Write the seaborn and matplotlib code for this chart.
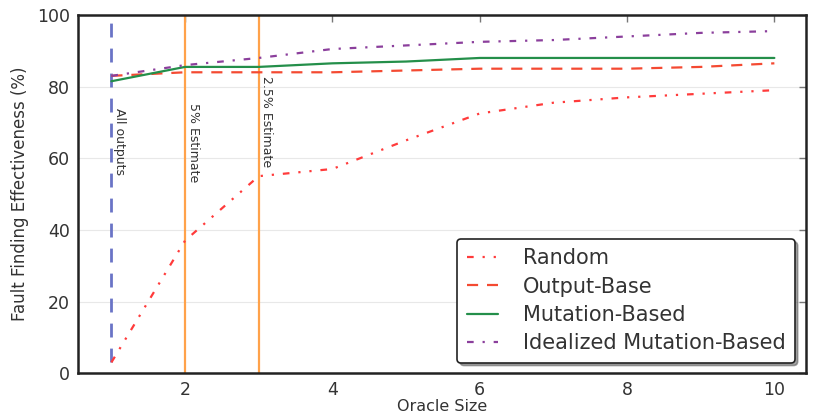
import numpy as np
import pandas as pd
import matplotlib
matplotlib.use("Agg")
import matplotlib.pyplot as plt
import seaborn as sns

# Oracle sizes and fault finding effectiveness (%) for each oracle strategy
oracle_size = [1, 2, 3, 4, 5, 6, 7, 8, 9, 10]
random_vals = [3, 37, 55, 57, 65, 72.5, 75.5, 77, 78, 79]
output_base = [83, 84, 84, 84, 84.5, 85, 85, 85, 85.5, 86.5]
mutation_based = [81.5, 85.5, 85.5, 86.5, 87, 88, 88, 88, 88, 88]
idealized = [83, 86, 88, 90.5, 91.5, 92.5, 93, 94, 95, 95.5]

series_names = ["Random", "Output-Base", "Mutation-Based", "Idealized Mutation-Based"]
series_vals = [random_vals, output_base, mutation_based, idealized]

# Reference oracle sizes
marker_x = [1, 2, 3]
marker_labels = ["All outputs", "5% Estimate", "2.5% Estimate"]
marker_label_y = [74, 75.5, 83]

df = pd.DataFrame({
    "Oracle Size": np.tile(oracle_size, len(series_names)),
    "Effectiveness": np.concatenate(series_vals),
    "Series": np.repeat(series_names, len(oracle_size)),
})

sns.set_style("white")
plt.rcParams["font.family"] = ["DejaVu Sans"]

fig, ax = plt.subplots(figsize=(8.15, 4.16), dpi=100)
fig.subplots_adjust(left=0.096, right=0.989, top=0.964, bottom=0.103)

palette = {
    "Random": "#ff3b3b",
    "Output-Base": "#f44a32",
    "Mutation-Based": "#248f4a",
    "Idealized Mutation-Based": "#8b3f9c",
}
dashes = {
    "Random": (3, 4, 1, 4, 1, 4),
    "Output-Base": (5, 4),
    "Mutation-Based": "",
    "Idealized Mutation-Based": (3, 4, 1, 4),
}
sns.lineplot(data=df, x="Oracle Size", y="Effectiveness", hue="Series",
             style="Series", palette=palette, dashes=dashes, linewidth=1.6,
             ax=ax, legend=False)

# Reference lines
ax.plot([1, 1], [3, 98], color="#6a74c6", linestyle=(0, (5, 4)), linewidth=2, zorder=1)
ax.axvline(2, color="#ffa24a", linewidth=1.6, zorder=1)
ax.axvline(3, color="#ffa24a", linewidth=1.6, zorder=1)
for xv, lab, yv in zip(marker_x, marker_labels, marker_label_y):
    ax.text(xv + 0.02, yv, lab, rotation=-90, ha="left", va="top",
            fontsize=9, color="#333333")

ax.set_xlim(0.55, 10.43)
ax.set_ylim(0, 100)
ax.set_xticks([2, 4, 6, 8, 10])
ax.set_yticks([0, 20, 40, 60, 80, 100])
ax.yaxis.grid(True, color="#e8e8e8", linewidth=0.8)
ax.set_axisbelow(True)
ax.tick_params(direction="in", top=True, right=True, length=5, width=1,
               color="#777777", labelsize=12.5, labelcolor="#333333", pad=6)
for s in ax.spines.values():
    s.set_color("#222222")
    s.set_linewidth(1.8)
ax.set_xlabel("Oracle Size", fontsize=11.5, color="#333333", labelpad=0)
ax.set_ylabel("Fault Finding Effectiveness (%)", fontsize=12, color="#333333", labelpad=6)

# Legend built from the plotted lines
handles = ax.get_lines()[:4]
leg = ax.legend(handles, series_names, loc="lower right", fontsize=15,
                frameon=True, fancybox=True, shadow=True, handlelength=1.5,
                handletextpad=1.2, borderpad=0.45, labelspacing=0.4,
                bbox_to_anchor=(0.999, 0.0))
leg.get_frame().set_edgecolor("#222222")
leg.get_frame().set_linewidth(1.2)
for t in leg.get_texts():
    t.set_color("#333333")

fig.savefig("out.png", dpi=100)
